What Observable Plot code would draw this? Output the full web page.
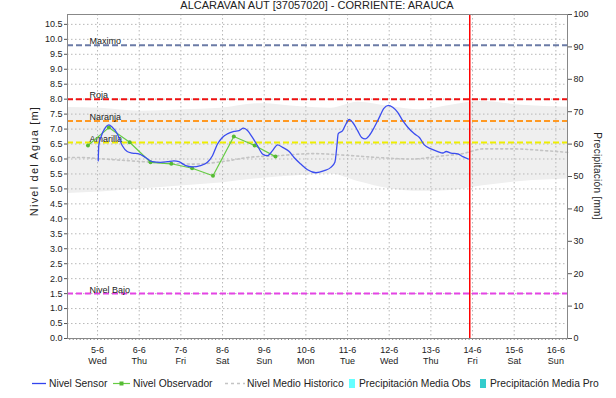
<!DOCTYPE html>
<html><head><meta charset="utf-8">
<script src="https://cdn.jsdelivr.net/npm/d3@7"></script>
<script src="https://cdn.jsdelivr.net/npm/@observablehq/plot@0.6"></script>
<style>
body{margin:0;background:#fff;font-family:"Liberation Sans",Arial,sans-serif;}
#wrap{position:relative;width:616px;height:398px;overflow:hidden;background:#fff;}
#chart{position:absolute;left:0;top:0;}
#title{position:absolute;left:67px;width:500px;top:0px;text-align:center;font-size:11px;line-height:11px;color:#222;white-space:nowrap;}
.ylab{position:absolute;white-space:nowrap;color:#222;transform-origin:center;}
.leg{position:absolute;top:377px;font-size:10.3px;line-height:13px;color:#222;white-space:nowrap;}
.sw{position:absolute;}
</style></head>
<body><div id="wrap">
<div id="chart"></div>
<div id="title">ALCARAVAN  AUT [37057020] - CORRIENTE: ARAUCA</div>
<div class="ylab" id="ylabL" style="left:34px;top:161px;font-size:11px;letter-spacing:1.2px;transform:translate(-50%,-50%) rotate(-90deg);">Nivel del Agua [m]</div>
<div class="ylab" id="ylabR" style="left:597px;top:176px;font-size:10px;letter-spacing:0.3px;transform:translate(-50%,-50%) rotate(90deg);">Precipitación [mm]</div>
<div id="legend"></div>
</div>
<script>
// ---------- DATA ----------
const baseDay = Date.UTC(2024, 5, 5); // 5-6 (Wed) 00:00
const xStartHour = -17.3;
const xSpanHours = 288;
const nowHour = 214.4;
const dayLabels = ["5-6","6-6","7-6","8-6","9-6","10-6","11-6","12-6","13-6","14-6","15-6","16-6"];
const weekdayLabels = ["Wed","Thu","Fri","Sat","Sun","Mon","Tue","Wed","Thu","Fri","Sat","Sun"];
const levelTicks = [0,0.5,1,1.5,2,2.5,3,3.5,4,4.5,5,5.5,6,6.5,7,7.5,8,8.5,9,9.5,10,10.5];
const levelMax = 10.83;
const precipTicks = [0,10,20,30,40,50,60,70,80,90,100];
const precipMax = 100;

const sensorHours = [0.4,0.75,1.7,4.6,6.5,8.5,11.4,14.2,17.1,20.0,23.8,27.7,31.6,36.3,40.2,44.0,46.9,50.8,54.6,59.4,63.3,66.2,69.1,71.9,74.8,78.6,81.5,84.1,86.4,89.2,92.1,95.0,97.9,100.8,103.7,106.6,110.4,113.2,117.1,121.0,125.8,130.6,134.4,136.7,137.9,138.6,141.2,143.1,145.0,146.9,149.8,152.1,154.2,156.5,159.4,162.3,164.8,167.5,170.0,172.9,175.8,178.7,182.5,185.4,188.2,192.1,196.0,198.9,200.8,203.6,207.5,210.4,213.6];
const sensorLevels = [5.94,6.47,6.69,7.06,7.14,7.06,6.84,6.45,6.25,6.20,6.17,6.05,5.91,5.89,5.91,5.94,5.91,5.78,5.74,5.78,5.89,6.11,6.50,6.72,6.84,6.92,6.95,7.03,6.95,6.72,6.45,6.17,6.11,6.28,6.47,6.39,6.25,6.05,5.83,5.64,5.54,5.61,5.72,5.89,6.45,6.84,6.95,7.17,7.32,7.23,6.95,6.72,6.67,6.78,7.06,7.39,7.68,7.79,7.73,7.56,7.28,7.06,6.84,6.72,6.47,6.34,6.25,6.20,6.25,6.20,6.17,6.08,6.00];

const obsHours = [-5.5,6.5,18.5,30.5,42.5,54.5,66.5,78.5,90.5,102.5];
const obsLevels = [6.45,7.05,6.56,5.89,5.84,5.69,5.44,6.75,6.45,6.08];

const histHours = [-17.3,-9.8,3.5,26.5,55.4,75.0,86.5,103.8,124.0,141.9,161.5,180.6,199.6,209.4,222.7,238.3,257.3,271.2];
const histLevels = [6.05,6.05,6.0,5.91,5.83,5.94,6.05,6.11,6.18,6.13,6.05,6.0,6.11,6.17,6.34,6.34,6.28,6.22];

const bandHours = [-17.3,1.7,24.8,47.9,71.0,94.0,117.1,134.4,150.0,169.0,186.3,203.6,221.0,244.0,271.2];
const bandHigh = [7.72,7.7,7.6,7.65,7.7,7.85,7.75,7.7,7.9,7.75,7.65,7.8,7.92,7.8,7.73];
const bandLow = [4.85,4.9,5.0,5.1,5.2,5.35,5.45,5.5,5.25,5.0,4.92,4.95,5.1,5.25,5.33];

const thresholdNames = ["Maximo","Roja","Naranja","Amarilla","Nivel Bajo"];
const thresholdLevels = [9.8,8.0,7.27,6.55,1.5];
const thresholdColors = ["#6b7ba6","#ee1111","#ff9922","#eeee00","#e444e4"];

const legendNames = ["Nivel Sensor","Nivel Observador","Nivel Medio Historico","Precipitación Media Obs","Precipitación Media Pro"];

// ---------- BUILD ----------
const t = h => new Date(baseDay + h * 3600e3);
const sensor = sensorHours.map((h,i) => ({date: t(h), v: sensorLevels[i]}));
const obs = obsHours.map((h,i) => ({date: t(h), v: obsLevels[i]}));
const hist = histHours.map((h,i) => ({date: t(h), v: histLevels[i]}));
const band = bandHours.map((h,i) => ({date: t(h), lo: bandLow[i], hi: bandHigh[i]}));
const thresholds = thresholdNames.map((n,i) => ({name: n, v: thresholdLevels[i], color: thresholdColors[i]}));
const days = dayLabels.map((l,i) => t(24*i));
const hourTicks = d3.range(Math.ceil(xStartHour/2)*2, xStartHour + xSpanHours, 2).map(t);
const k = levelMax / precipMax;

const grid = {stroke: "#b8b8b8", strokeOpacity: 1, strokeWidth: 1, strokeDasharray: "1.5,2.5"};

const chart = Plot.plot({
  width: 616, height: 368,
  marginLeft: 67, marginRight: 49, marginTop: 14, marginBottom: 30,
  style: {fontFamily: "'Liberation Sans', Arial, sans-serif", fontSize: "9px", color: "#222", background: "transparent"},
  x: {type: "utc", domain: [t(xStartHour), t(xStartHour + xSpanHours)]},
  y: {domain: [0, levelMax]},
  color: {type: "identity"},
  marks: [
    Plot.areaY(band, {x: "date", y1: "lo", y2: "hi", fill: "#efefef", curve: "monotone-x"}),
    Plot.gridY(levelTicks, grid),
    Plot.gridX(days, grid),
    Plot.line(hist, {x: "date", y: "v", stroke: "#c4c4c4", strokeWidth: 1.6, strokeDasharray: "2,3", curve: "monotone-x"}),
    Plot.ruleY(thresholds, {y: "v", stroke: "color", strokeWidth: 2, strokeDasharray: "6,3"}),
    Plot.text(thresholds, {y: "v", text: "name", frameAnchor: "left", textAnchor: "start", lineAnchor: "bottom", dx: 22, dy: -1, fill: "#222", fontSize: 9}),
    Plot.line(obs, {x: "date", y: "v", stroke: "#66cc44", strokeWidth: 1.2}),
    Plot.dot(obs, {x: "date", y: "v", r: 2, fill: "#55bb33", stroke: null}),
    Plot.line(sensor, {x: "date", y: "v", stroke: "#3b4df0", strokeWidth: 1.3, curve: "monotone-x"}),
    Plot.ruleX([t(nowHour)], {stroke: "#ff0000", strokeWidth: 1.5, y1: 0, y2: levelMax}),
    Plot.frame({stroke: "#888"}),
    Plot.axisY(levelTicks, {anchor: "left", tickSize: 3, tickPadding: 2, tickFormat: d3.format(".1f"), label: null, stroke: "#555"}),
    Plot.axisY(precipTicks, {anchor: "right", y: d => d * k, tickSize: 4, tickPadding: 2, tickFormat: d => String(d), label: null, stroke: "#555"}),
    Plot.axisX(hourTicks, {anchor: "bottom", tickSize: 2, tickFormat: () => "", label: null, stroke: "#888"}),
    Plot.axisX(days, {anchor: "bottom", tickSize: 0, tickPadding: 6, lineHeight: 1.25, tickFormat: (d) => { const i = days.findIndex(x => +x === +d); return dayLabels[i] + "\n" + weekdayLabels[i]; }, label: null})
  ]
});
document.getElementById("chart").appendChild(chart);

// legend
const legendSwatches = [
  {type: "line", color: "#3344ee"},
  {type: "marker", color: "#55bb33"},
  {type: "dash", color: "#c4c4c4"},
  {type: "rect", color: "#66ffff"},
  {type: "rect", color: "#33cccc"}
];
const legendSwatchX = [32, 113, 225, 349, 480];
const legendTextX = [49, 133, 247, 359, 490];
const leg = document.getElementById("legend");
legendNames.forEach((name, i) => {
  const s = legendSwatches[i];
  if (s.type === "rect") {
    const sw = document.createElement("div");
    sw.className = "sw";
    sw.style.cssText = `left:${legendSwatchX[i]}px;top:379px;width:6px;height:9px;background:${s.color};`;
    leg.appendChild(sw);
  } else {
    const svg = `<svg width="20" height="9" style="position:absolute;left:${legendSwatchX[i]}px;top:379px">` +
      (s.type === "line" ? `<line x1="0" x2="14" y1="4.5" y2="4.5" stroke="${s.color}" stroke-width="1.3"/>` :
       s.type === "marker" ? `<line x1="0" x2="17" y1="4.5" y2="4.5" stroke="#66cc44" stroke-width="1.2"/><rect x="6.5" y="2.5" width="4" height="4" fill="${s.color}"/>` :
       `<line x1="0" x2="20" y1="4.5" y2="4.5" stroke="${s.color}" stroke-width="1.5" stroke-dasharray="3,3"/>`) + `</svg>`;
    leg.insertAdjacentHTML("beforeend", svg);
  }
  const tx = document.createElement("div");
  tx.className = "leg";
  tx.style.left = legendTextX[i] + "px";
  tx.textContent = name;
  leg.appendChild(tx);
});
</script>
</body></html>
